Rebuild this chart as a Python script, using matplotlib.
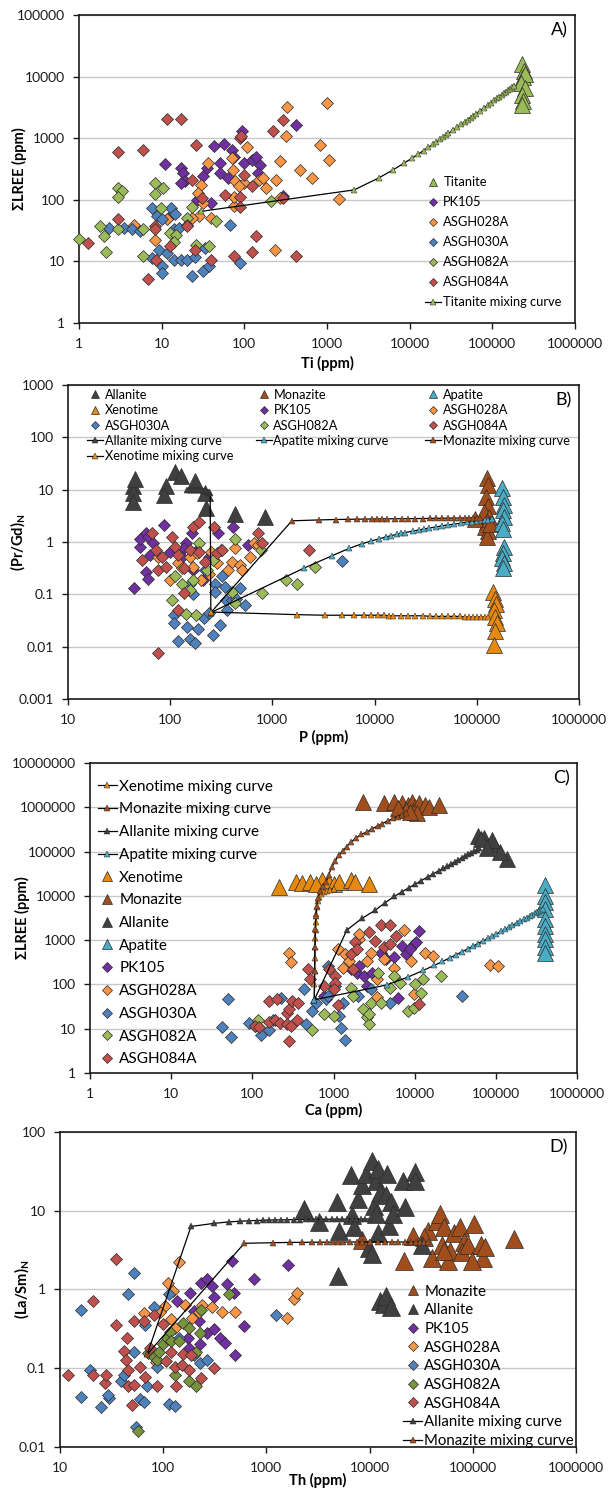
import matplotlib
matplotlib.use('Agg')
import matplotlib.pyplot as plt
from matplotlib.lines import Line2D
from matplotlib.legend import Legend
from matplotlib.ticker import FixedLocator, FuncFormatter, NullLocator

plt.rcParams['font.family'] = ['Lato', 'DejaVu Sans']
plt.rcParams['mathtext.fontset'] = 'custom'
plt.rcParams['mathtext.rm'] = 'Lato'
plt.rcParams['mathtext.bf'] = 'Lato:bold'

# ---------------------------------------------------------------- colours
PURPLE = '#7030A0'
ORANGE = '#F79646'
BLUE = '#4F81BD'
GREEN = '#9BBB59'
GREEN_DK = '#77933C'
RED = '#C0504D'
ALLANITE = '#404040'
MONAZITE = '#A24E1C'
APATITE = '#4BACC6'
XENOTIME = '#E8890F'
EDGE = '#2b2b2b'

# ---------------------------------------------------------------- A) Ti vs sum LREE
a_titanite_ti = [230000, 240000, 235000, 250000, 225000, 245000, 230000, 235000, 228000]
a_titanite_lree = [16000, 12500, 10000, 11000, 8000, 6500, 5000, 4000, 3500]

a_pk105_ti = [11, 17, 18, 19, 17, 32, 35, 43, 56, 51, 51, 64, 70, 76, 94, 100, 124, 138, 155, 145, 420, 290, 12, 39, 27]
a_pk105_lree = [380, 325, 270, 200, 185, 240, 325, 760, 810, 390, 270, 225, 650, 500, 1300, 390, 450, 500, 370, 270, 1650, 115, 50, 89, 100]

a_028_ti = [1000, 330, 316, 815, 1050, 107, 475, 270, 660, 1410, 240, 235, 270, 71, 73, 78, 100, 150, 170, 185,
            36, 30, 27.5, 32, 28, 39, 23, 11.5, 8.2, 4.6, 74, 87, 74]
a_028_lree = [3800, 3200, 1070, 780, 450, 730, 300, 420, 225, 104, 210, 15.5, 107, 475, 310, 200, 185, 210, 225, 155,
              390, 175, 128, 89, 54, 50, 50, 48, 22.5, 39, 78, 165, 112]

a_030_ti = [2.3, 3.5, 4.4, 5.5, 7.6, 8.9, 10, 13, 14.5, 14, 9.4, 11.7, 14, 10, 10, 7.6, 17, 20, 25, 23, 32, 37, 33, 68, 89, 16]
a_030_lree = [35, 35, 33, 31, 75, 54, 48, 73, 60, 33, 15.5, 13.7, 10.6, 8.3, 6.5, 11.3, 10.6, 10.6, 12, 5.9, 6.9, 8.3, 16.5, 39, 9.3, 35]

a_082_ti = [1, 1.8, 2.0, 2.15, 3.0, 3.3, 3.0, 3.0, 6.0, 6.0, 8.3, 8.3, 10.5, 9.8, 12.5, 15, 14, 23, 46, 37, 26, 210, 20.5]
a_082_lree = [23, 37, 25.5, 14, 155, 140, 113, 34, 33, 12.3, 190, 123, 155, 73, 29, 27, 21, 76, 45, 17.5, 18.6, 94, 50]

a_084_ti = [1.3, 3.0, 6.0, 11.7, 17, 26, 23, 30.5, 59, 89, 89, 100, 89, 92, 124, 220, 290, 290, 3.0, 8.3, 8.3, 8.5,
            6.9, 12.5, 20, 20.5, 25, 39, 76, 124, 138, 420]
a_084_lree = [20, 600, 650, 2050, 2050, 780, 210, 107, 120, 113, 76, 255, 1000, 1100, 165, 1320, 2000, 107, 48, 37, 33, 10.6,
              5.2, 17.5, 39, 37, 15.5, 10.6, 12.3, 14, 25.5, 12.3]

a_ttn_mix_ti = [30, 2130, 4230, 6330, 8430, 10530, 12630, 14730, 16830, 18930, 21030, 23130, 25230, 27330, 29430, 33630,
                37830, 42030, 46230, 50430, 54630, 58830, 63030, 71430, 79830, 88230, 96630, 105030, 113430, 121830,
                130230, 138630, 147030, 155430, 163830, 172230, 180630]
a_ttn_mix_lree = [65, 145, 227, 308, 390, 470, 550, 630, 712, 793, 874, 955, 1035, 1116, 1197, 1360, 1520, 1683, 1845, 2006,
                  2170, 2330, 2490, 2815, 3140, 3460, 3785, 4110, 4430, 4755, 5080, 5400, 5725, 6050, 6370, 6695, 7020]

# ---------------------------------------------------------------- B) P vs (Pr/Gd)N
b_allanite_p = [43, 43, 43, 45, 91, 87, 112, 128, 174, 218, 224, 427, 850]
b_allanite_r = [12, 8.5, 5.9, 16, 12, 8, 22, 18, 15, 8.5, 4.4, 3.5, 3.0]
b_monazite_p = [125000, 128000, 122000, 130000, 118000, 132000, 125000, 120000, 130000, 127000, 95000, 135000]
b_monazite_r = [16.6, 12.3, 7.4, 4.8, 3.8, 3.0, 2.4, 1.9, 1.6, 1.26, 2.8, 2.2]
b_apatite_p = [178000, 182000, 186000, 180000, 184000, 178000, 182000, 186000, 180000, 178000, 184000, 182000]
b_apatite_r = [10.6, 7.4, 5.1, 4.1, 3.0, 2.3, 1.8, 0.81, 0.61, 0.49, 0.39, 0.32]
b_xenotime_p = [145000, 150000, 155000, 148000, 152000, 158000, 150000, 148000]
b_xenotime_r = [0.11, 0.083, 0.067, 0.05, 0.037, 0.028, 0.020, 0.011]

b_pk105_p = [44, 51, 51, 58, 61, 68, 63, 58, 61, 87, 100, 142, 163, 174, 295, 416, 578, 135, 129, 167, 240, 210]
b_pk105_r = [0.135, 0.81, 1.17, 1.48, 1.26, 0.94, 0.56, 0.27, 0.20, 2.1, 0.66, 0.94, 1.48, 0.66, 1.48, 1.9, 0.87, 0.76,
             0.53, 0.29, 0.53, 0.19]
b_028_p = [76, 100, 118, 129, 155, 183, 200, 240, 250, 284, 316, 370, 398, 426, 480, 500, 600, 660, 720, 167]
b_028_r = [0.53, 0.19, 0.39, 0.32, 0.53, 0.61, 0.19, 0.25, 0.66, 0.39, 0.70, 0.29, 0.42, 0.78, 0.36, 0.29, 0.53, 0.94, 0.87, 0.34]
b_030_p = [108, 108, 118, 147, 156, 174, 186, 213, 240, 263, 310, 272, 272, 324, 347, 355, 363, 405, 440, 480, 536, 4800,
           220, 167, 155]
b_030_r = [0.041, 0.028, 0.0126, 0.024, 0.014, 0.012, 0.022, 0.035, 0.045, 0.017, 0.026, 0.16, 0.11, 0.22, 0.14, 0.078,
           0.050, 0.078, 0.083, 0.13, 0.063, 0.44, 0.29, 0.10, 0.16]
b_082_p = [103, 112, 129, 142, 155, 167, 179, 191, 229, 265, 398, 426, 426, 775, 795, 1350, 1740, 2620]
b_082_r = [0.078, 0.22, 0.16, 0.043, 0.12, 0.19, 0.041, 0.94, 0.29, 0.46, 0.11, 0.068, 1.17, 0.70, 0.107, 0.19, 0.155, 0.34]
b_084_p = [66, 73, 76, 83, 91, 103, 112, 120, 135, 137, 118, 155, 167, 191, 191, 218, 270, 284, 324, 720, 795, 2300, 76, 53]
b_084_r = [1.48, 0.70, 0.29, 0.53, 0.34, 1.26, 0.81, 0.56, 0.32, 0.105, 0.051, 0.70, 1.95, 2.4, 0.66, 0.42, 1.95, 0.61,
           0.70, 1.48, 0.94, 0.70, 0.0077, 0.46]

b_aln_mix_p = [250, 246, 240, 232, 224, 216, 208, 200, 192, 184, 176, 168, 160, 152, 145]
b_aln_mix_r = [0.045, 8.6, 8.9, 9.1, 9.3, 9.45, 9.6, 9.7, 9.8, 9.85, 9.9, 9.95, 10.0, 10.05, 10.1]
b_mnz_mix_p = [250, 1550, 2850, 4150, 5450, 6750, 8050, 9350, 10650, 11950, 13250, 15850, 18450, 21050, 25000, 30000,
               35000, 40000, 46000, 52000, 60000, 68000, 76000, 84000, 92000, 100000, 108000]
b_mnz_mix_r = [0.045, 2.55, 2.65, 2.7, 2.72, 2.74, 2.75, 2.76, 2.77, 2.78, 2.78, 2.79, 2.8, 2.8, 2.81, 2.82, 2.83, 2.84,
               2.85, 2.86, 2.87, 2.88, 2.89, 2.9, 2.9, 2.91, 2.92]
b_ap_mix_p = [250, 2050, 3850, 5650, 7450, 9250, 11000, 12800, 14600, 16400, 18200, 20000, 23500, 27000, 30500, 34000,
              40000, 46000, 52000, 60000, 70000, 80000, 90000, 100000, 110000, 120000, 130000, 140000]
b_ap_mix_r = [0.045, 0.32, 0.55, 0.76, 0.92, 1.05, 1.15, 1.25, 1.33, 1.4, 1.46, 1.52, 1.62, 1.7, 1.78, 1.85, 1.95, 2.05,
              2.12, 2.2, 2.3, 2.4, 2.47, 2.55, 2.6, 2.65, 2.7, 2.75]
b_xtm_mix_p = [250, 1750, 3300, 4800, 6300, 7800, 9300, 10800, 12300, 13800, 15300, 18000, 21000, 25000, 30000, 35000,
               40000, 46000, 52000, 60000, 68000, 76000, 84000, 92000, 100000, 110000, 120000, 130000]
b_xtm_mix_r = [0.046, 0.041, 0.040, 0.040, 0.040, 0.040, 0.040, 0.040, 0.040, 0.039, 0.039, 0.039, 0.039, 0.039, 0.039,
               0.038, 0.038, 0.038, 0.038, 0.038, 0.038, 0.037, 0.037, 0.037, 0.037, 0.037, 0.037, 0.037]

# ---------------------------------------------------------------- C) Ca vs sum LREE
c_monazite_ca = [2300, 4200, 5600, 6900, 8200, 9200, 10200, 11400, 13400, 15000, 19900, 7800, 9700, 6200, 10800, 8700]
c_monazite_lree = [1.35e6, 1.25e6, 1.35e6, 1.25e6, 1.13e6, 1.35e6, 1.04e6, 1.25e6, 1.13e6, 1.04e6, 1.13e6, 0.87e6,
                   0.8e6, 0.95e6, 0.73e6, 0.8e6]
c_xenotime_ca = [213, 348, 410, 513, 720, 890, 1000, 1170, 1650, 1830, 2700, 600]
c_xenotime_lree = [16000, 21000, 19500, 21000, 23000, 19500, 18500, 21000, 23000, 21000, 18500, 18500]
c_allanite_ca = [60000, 71000, 88000, 94000, 139000, 112000, 89000, 65000, 78000]
c_allanite_lree = [2.3e5, 2.0e5, 1.6e5, 1.4e5, 6.9e4, 9.8e4, 1.8e5, 1.9e5, 1.2e5]
c_apatite_ca = [400000, 405000, 398000, 402000, 400000, 404000, 399000, 401000, 403000, 400000]
c_apatite_lree = [17400, 10200, 7200, 5100, 3000, 2100, 1400, 1070, 700, 520]

c_pk105_ca = [760, 1650, 1950, 2050, 2400, 3000, 3800, 4450, 5600, 6900, 6200, 7800, 9700, 10500, 11400, 8700, 2560]
c_pk105_lree = [55, 220, 185, 265, 155, 185, 520, 375, 410, 740, 50, 490, 810, 890, 1620, 630, 93]
c_028_ca = [280, 296, 1120, 1320, 1390, 1550, 2050, 2050, 2880, 2560, 3400, 3400, 5600, 9100, 9700, 13500, 17000, 7400,
            4200, 85000, 105000]
c_028_lree = [520, 315, 630, 240, 490, 340, 1070, 1380, 520, 340, 131, 52, 240, 340, 60, 520, 445, 1740, 375, 275, 265]
c_030_ca = [42, 50, 54, 92, 109, 129, 162, 224, 178, 436, 540, 460, 600, 800, 850, 1050, 1170, 1250, 1390, 1320, 850,
            2900, 5000, 38000, 2000]
c_030_lree = [11, 48, 6.6, 13.5, 11.5, 7.1, 9.5, 50, 16, 78, 25, 12.6, 39, 46, 55, 93, 19, 10.5, 5.6, 39, 265, 78, 39, 55, 55]
c_082_ca = [117, 540, 760, 1000, 1650, 1740, 2300, 2560, 2700, 2700, 2900, 3550, 3800, 5000, 5600, 6600, 8200, 9700,
            10200, 12000, 12800, 21000]
c_082_lree = [16, 9.5, 21, 19, 85, 55, 27.5, 18, 12.6, 21, 39, 185, 39, 85, 155, 110, 25, 30, 100, 65, 131, 155]
c_084_ca = [162, 200, 162, 190, 220, 265, 280, 265, 296, 280, 310, 370, 350, 109, 121, 485, 510, 760, 890, 1050, 1050,
            1000, 1120, 1650, 1830, 1950, 1740, 2700, 3200, 3800, 5000, 4200, 5900, 11400, 5000]
c_084_lree = [43, 46, 14, 15.5, 13.5, 23, 27.5, 12.6, 11.5, 5.2, 43, 39, 16, 11.8, 11, 220, 131, 93, 220, 155, 110, 78,
              35, 490, 890, 630, 220, 1500, 980, 2150, 2150, 690, 1260, 37, 810]

c_xtm_mix_ca = [580, 583, 586, 589, 592, 596, 600, 606, 614, 625, 640, 665, 705, 760, 830, 910, 1000]
c_xtm_mix_lree = [45, 100, 200, 400, 700, 1100, 1700, 2600, 3800, 5500, 7500, 9500, 11000, 12300, 13200, 13900, 14500]
c_mnz_mix_ca = [580, 585, 590, 597, 605, 620, 645, 685, 735, 800, 870, 950, 1050, 1170, 1300, 1450, 1650, 1900, 2200,
                2600, 3000, 3500, 4000, 4700, 5400, 6200, 7000, 7800]
c_mnz_mix_lree = [45, 200, 700, 1800, 3500, 6000, 9000, 13000, 17000, 20500, 30000, 44000, 62000, 83000, 105000, 130000,
                  166000, 205000, 245000, 280000, 330000, 380000, 430000, 500000, 560000, 620000, 680000, 730000]
c_aln_mix_ca = [580, 1460, 2240, 3240, 4270, 5600, 7000, 8500, 10000, 12000, 14500, 17000, 20000, 22500, 25000, 28000,
                31000, 34000, 38000, 42000, 46000, 50000, 54000, 58000, 62000]
c_aln_mix_lree = [45, 1690, 3100, 4700, 6900, 9720, 12410, 15290, 18170, 22010, 26810, 31610, 37370, 42170, 46970,
                  52730, 58490, 64250, 71930, 79610, 87290, 94970, 102650, 110330, 118010]
c_ap_mix_ca = [580, 4500, 8200, 12800, 17500, 22000, 27000, 32000, 38000, 45000, 52000, 60000, 70000, 80000, 90000,
               100000, 115000, 130000, 145000, 160000, 180000, 200000, 220000, 240000, 260000, 280000, 300000, 320000,
               340000, 360000, 380000]
c_ap_mix_lree = [45, 97, 146, 208, 270, 330, 397, 464, 543, 637, 730, 837, 970, 1103, 1236, 1369, 1569, 1769, 1969,
                 2169, 2435, 2701, 2968, 3234, 3500, 3767, 4033, 4299, 4566, 4832, 5099]

# ---------------------------------------------------------------- D) Th vs (La/Sm)N
d_allanite_th = [2300, 3200, 4800, 5000, 4900, 6600, 6800, 7100, 7800, 8500, 9300, 9800, 10500, 10500, 11000, 11500,
                 11500, 12000, 12000, 12600, 12600, 13700, 14500, 14500, 14900, 15500, 16200, 17000, 21000, 22000,
                 27500, 27500, 32000, 16200]
d_allanite_ls = [10.5, 7.1, 13, 5.5, 1.48, 28, 8.7, 6.2, 14, 21, 29, 3.4, 43, 2.8, 11.5, 24, 9.1, 34, 5.2, 17, 0.71,
                 0.65, 0.82, 16, 29, 6.4, 13, 9.1, 24, 11, 31, 24, 3.7, 0.59]
d_monazite_th = [8500, 21500, 26500, 37000, 40500, 45000, 48000, 50000, 53000, 57000, 60000, 66000, 75000, 82000, 78000,
                 89000, 102000, 120000, 126000, 132000, 251000, 34000, 98000, 53000]
d_monazite_ls = [4.2, 2.3, 4.8, 5.5, 2.5, 7.4, 9.1, 3.7, 6.2, 2.3, 3.1, 5.2, 6.2, 4.0, 2.95, 3.7, 6.8, 3.7, 2.5, 3.5,
                 4.4, 4.6, 2.3, 3.1]

d_pk105_th = [460, 1630, 760, 233, 263, 295, 310, 415, 480, 182, 135, 173, 178, 220, 229, 263, 310, 355, 398, 600, 500, 200]
d_pk105_ls = [2.3, 2.05, 1.35, 1.22, 1.35, 1.1, 0.81, 1.17, 0.91, 0.91, 0.71, 0.24, 0.18, 0.40, 0.20, 0.28, 0.31, 0.24,
              0.21, 0.34, 0.145, 0.54]
d_028_th = [65, 105, 93, 112, 125, 142, 120, 163, 191, 220, 240, 295, 370, 500, 1600, 1860, 2000, 130, 85]
d_028_ls = [0.50, 0.62, 0.52, 1.19, 0.95, 2.2, 0.42, 0.64, 0.44, 0.52, 0.64, 0.59, 0.52, 0.52, 0.43, 0.75, 0.91, 0.32, 0.12]
d_030_th = [16, 16, 19.5, 25, 30, 29, 39, 42, 46, 52, 52, 55, 59, 65, 67, 69, 81, 88, 114, 114, 129, 142, 200, 229, 263, 1230]
d_030_ls = [0.55, 0.043, 0.095, 0.032, 0.042, 0.045, 0.069, 0.082, 0.87, 1.6, 0.16, 0.018, 0.041, 0.037, 0.35, 0.059,
            0.59, 0.105, 0.87, 0.035, 0.033, 0.24, 0.148, 0.117, 0.128, 0.48]
d_082_th = [57, 71, 81, 88, 92, 100, 110, 117, 120, 129, 142, 155, 178, 178, 210, 210, 229, 233, 435]
d_082_ls = [0.016, 0.155, 0.14, 0.128, 0.16, 0.20, 0.24, 0.29, 0.22, 0.082, 0.22, 0.37, 0.32, 0.068, 0.059, 0.16, 0.28,
            0.55, 0.88]
d_084_th = [12, 21, 21, 27, 28, 35, 35, 41.5, 45, 44, 46, 46, 50, 52, 52, 59, 65, 67, 74, 81, 88, 100, 107, 120, 130,
            132, 152, 155, 178, 186, 233, 310]
d_084_ls = [0.083, 0.71, 0.082, 0.064, 0.082, 2.4, 0.35, 0.167, 0.24, 0.128, 0.095, 0.059, 0.034, 0.40, 0.062, 0.104,
            0.40, 0.078, 0.178, 0.48, 0.059, 0.36, 0.123, 0.16, 0.104, 0.060, 0.11, 0.15, 0.095, 0.148, 0.076, 0.102]

d_aln_mix_th = [70, 186, 310, 435, 560, 685, 810, 935, 1060, 1200, 1400, 1600, 1850, 2100, 2400, 2700, 3000, 3400, 3800,
                4300, 4800, 5400, 6000, 6700, 7400, 8200, 9000, 10000]
d_aln_mix_ls = [0.15, 6.3, 6.9, 7.2, 7.35, 7.45, 7.5, 7.55, 7.6, 7.62, 7.65, 7.68, 7.7, 7.72, 7.74, 7.75, 7.76, 7.77,
                7.78, 7.79, 7.8, 7.8, 7.8, 7.81, 7.81, 7.82, 7.82, 7.82]
d_mnz_mix_th = [70, 610, 1150, 1690, 2230, 2770, 3310, 3850, 4390, 4930, 5470, 6500, 7500, 8500, 10000, 12000, 14000,
                16500, 19000, 22000, 25000, 28000, 31000, 34000, 37000]
d_mnz_mix_ls = [0.15, 3.85, 3.92, 3.95, 3.96, 3.97, 3.98, 3.98, 3.99, 3.99, 3.99, 4.0, 4.0, 4.0, 4.0, 4.0, 4.0, 4.0,
                4.0, 4.0, 4.0, 4.0, 4.0, 4.0, 4.0]


# ---------------------------------------------------------------- helpers
def plain(v, pos):
    return f'{v:.0f}' if v >= 1 else f'{v:g}'


def setup(ax, xdec, ydec, xlabel, ylabel, tag, xl_pos, yl_pos):
    ax.set_xscale('log')
    ax.set_yscale('log')
    xt = [10.0 ** k for k in range(xdec[0], xdec[1] + 1)]
    yt = [10.0 ** k for k in range(ydec[0], ydec[1] + 1)]
    ax.set_xlim(xt[0], xt[-1])
    ax.set_ylim(yt[0], yt[-1])
    ax.xaxis.set_major_locator(FixedLocator(xt))
    ax.yaxis.set_major_locator(FixedLocator(yt))
    ax.xaxis.set_minor_locator(NullLocator())
    ax.yaxis.set_minor_locator(NullLocator())
    ax.xaxis.set_major_formatter(FuncFormatter(plain))
    ax.yaxis.set_major_formatter(FuncFormatter(plain))
    ax.grid(axis='y', color='#c8c8c8', lw=1.0)
    ax.set_axisbelow(True)
    for s in ax.spines.values():
        s.set_linewidth(1.2)
        s.set_color('#1a1a1a')
    ax.tick_params(direction='out', length=4, width=1.0, labelsize=10, colors='#1a1a1a')
    ax.tick_params(axis='x', pad=6.5)
    ax.tick_params(axis='y', pad=6)
    ax.set_xlabel(xlabel, fontsize=10.5, fontweight='bold')
    ax.set_ylabel(ylabel, fontsize=10.5, fontweight='bold')
    ax.xaxis.set_label_coords(0.5, xl_pos)
    ax.yaxis.set_label_coords(yl_pos, 0.5)
    ax.text(0.985, 0.95, tag, transform=ax.transAxes, ha='right', va='center', fontsize=13)


def diamonds(ax, x, y, color, ms=5.8):
    ax.plot(x, y, ls='none', marker='D', ms=ms, mfc=color, mec=EDGE, mew=0.5, clip_on=False, zorder=3)


def triangles(ax, x, y, color, ms=12):
    ax.plot(x, y, ls='none', marker='^', ms=ms, mfc=color, mec=EDGE, mew=0.5, clip_on=False, zorder=3)


def mixing(ax, x, y, color):
    ax.plot(x, y, color='black', lw=0.9, marker='^', ms=3.8, mfc=color, mec=EDGE, mew=0.35, zorder=4)


def h_dia(color, ms=4.5):
    return Line2D([], [], ls='none', marker='D', ms=ms, mfc=color, mec=EDGE, mew=0.5)


def h_tri(color, ms=6):
    return Line2D([], [], ls='none', marker='^', ms=ms, mfc=color, mec=EDGE, mew=0.5)


def h_mix(color):
    return Line2D([], [], color='black', lw=0.9, marker='^', ms=3.8, mfc=color, mec=EDGE, mew=0.35)


def legend(ax, handles, labels, x, y, size, spacing):
    lg = Legend(ax, handles, labels, loc='upper left', bbox_to_anchor=(x, y), frameon=False, fontsize=size,
                handlelength=1.25, handletextpad=0.15, labelspacing=spacing, borderpad=0, borderaxespad=0,
                numpoints=1)
    ax.add_artist(lg)
    return lg


fig = plt.figure(figsize=(6.11, 14.88), dpi=100)

# ---------------------------------------------------------------- A
ax = fig.add_axes([0.1293, 0.7829, 0.8118, 0.2070])
triangles(ax, a_titanite_ti, a_titanite_lree, GREEN)
diamonds(ax, a_pk105_ti, a_pk105_lree, PURPLE)
diamonds(ax, a_028_ti, a_028_lree, ORANGE)
diamonds(ax, a_030_ti, a_030_lree, BLUE)
diamonds(ax, a_082_ti, a_082_lree, GREEN)
diamonds(ax, a_084_ti, a_084_lree, RED)
mixing(ax, a_ttn_mix_ti, a_ttn_mix_lree, GREEN)
setup(ax, (0, 6), (0, 5), 'Ti (ppm)', 'ΣLREE (ppm)', 'A)', -0.107, -0.105)
legend(ax, [h_tri(GREEN), h_dia(PURPLE), h_dia(ORANGE), h_dia(BLUE), h_dia(GREEN), h_dia(RED), h_mix(GREEN)],
       ['Titanite', 'PK105', 'ASGH028A', 'ASGH030A', 'ASGH082A', 'ASGH084A', 'Titanite mixing curve'],
       0.698, 0.477, 9.3, 0.62)

# ---------------------------------------------------------------- B
ax = fig.add_axes([0.1113, 0.5302, 0.8363, 0.2110])
triangles(ax, b_allanite_p, b_allanite_r, ALLANITE)
triangles(ax, b_monazite_p, b_monazite_r, MONAZITE)
triangles(ax, b_apatite_p, b_apatite_r, APATITE)
triangles(ax, b_xenotime_p, b_xenotime_r, XENOTIME)
diamonds(ax, b_pk105_p, b_pk105_r, PURPLE)
diamonds(ax, b_028_p, b_028_r, ORANGE)
diamonds(ax, b_030_p, b_030_r, BLUE)
diamonds(ax, b_082_p, b_082_r, GREEN)
diamonds(ax, b_084_p, b_084_r, RED)
mixing(ax, b_aln_mix_p, b_aln_mix_r, ALLANITE)
mixing(ax, b_ap_mix_p, b_ap_mix_r, APATITE)
mixing(ax, b_mnz_mix_p, b_mnz_mix_r, MONAZITE)
mixing(ax, b_xtm_mix_p, b_xtm_mix_r, XENOTIME)
setup(ax, (1, 6), (-3, 3), 'P (ppm)', r'(Pr/Gd)$_\mathbf{N}$', 'B)', -0.099, -0.078)
legend(ax, [h_tri(ALLANITE), h_tri(XENOTIME), h_dia(BLUE), h_mix(ALLANITE), h_mix(XENOTIME)],
       ['Allanite', 'Xenotime', 'ASGH030A', 'Allanite mixing curve', 'Xenotime mixing curve'],
       0.037, 0.988, 9.2, 0.26)
legend(ax, [h_tri(MONAZITE), h_dia(PURPLE), h_dia(GREEN), h_mix(APATITE)],
       ['Monazite', 'PK105', 'ASGH082A', 'Apatite mixing curve'],
       0.367, 0.988, 9.2, 0.26)
legend(ax, [h_tri(APATITE), h_dia(ORANGE), h_dia(RED), h_mix(MONAZITE)],
       ['Apatite', 'ASGH028A', 'ASGH084A', 'Monazite mixing curve'],
       0.699, 0.988, 9.2, 0.26)

# ---------------------------------------------------------------- C
ax = fig.add_axes([0.1473, 0.2789, 0.7971, 0.2083])
triangles(ax, c_xenotime_ca, c_xenotime_lree, XENOTIME)
triangles(ax, c_monazite_ca, c_monazite_lree, MONAZITE)
triangles(ax, c_allanite_ca, c_allanite_lree, ALLANITE)
triangles(ax, c_apatite_ca, c_apatite_lree, APATITE)
diamonds(ax, c_pk105_ca, c_pk105_lree, PURPLE)
diamonds(ax, c_028_ca, c_028_lree, ORANGE)
diamonds(ax, c_030_ca, c_030_lree, BLUE)
diamonds(ax, c_082_ca, c_082_lree, GREEN)
diamonds(ax, c_084_ca, c_084_lree, RED)
mixing(ax, c_xtm_mix_ca, c_xtm_mix_lree, XENOTIME)
mixing(ax, c_mnz_mix_ca, c_mnz_mix_lree, MONAZITE)
mixing(ax, c_aln_mix_ca, c_aln_mix_lree, ALLANITE)
mixing(ax, c_ap_mix_ca, c_ap_mix_lree, APATITE)
setup(ax, (0, 6), (0, 7), 'Ca (ppm)', 'ΣLREE (ppm)', 'C)', -0.097, -0.123)
legend(ax, [h_mix(XENOTIME), h_mix(MONAZITE), h_mix(ALLANITE), h_mix(APATITE),
            h_tri(XENOTIME, 7.5), h_tri(MONAZITE, 7.5), h_tri(ALLANITE, 7.5), h_tri(APATITE, 7.5),
            h_dia(PURPLE, 5.5), h_dia(ORANGE, 5.5), h_dia(BLUE, 5.5), h_dia(GREEN, 5.5), h_dia(RED, 5.5)],
       ['Xenotime mixing curve', 'Monazite mixing curve', 'Allanite mixing curve', 'Apatite mixing curve',
        'Xenotime', 'Monazite', 'Allanite', 'Apatite', 'PK105', 'ASGH028A', 'ASGH030A', 'ASGH082A', 'ASGH084A'],
       0.016, 0.946, 11, 0.57)

# ---------------------------------------------------------------- D
ax = fig.add_axes([0.0982, 0.0276, 0.8445, 0.2117])
triangles(ax, d_monazite_th, d_monazite_ls, MONAZITE, 13)
triangles(ax, d_allanite_th, d_allanite_ls, ALLANITE, 13)
diamonds(ax, d_pk105_th, d_pk105_ls, PURPLE)
diamonds(ax, d_028_th, d_028_ls, ORANGE)
diamonds(ax, d_030_th, d_030_ls, BLUE)
diamonds(ax, d_082_th, d_082_ls, GREEN_DK)
diamonds(ax, d_084_th, d_084_ls, RED)
mixing(ax, d_aln_mix_th, d_aln_mix_ls, ALLANITE)
mixing(ax, d_mnz_mix_th, d_mnz_mix_ls, MONAZITE)
setup(ax, (1, 6), (-2, 2), 'Th (ppm)', r'(La/Sm)$_\mathbf{N}$', 'D)', -0.083, -0.054)
legend(ax, [h_tri(MONAZITE, 7.5), h_tri(ALLANITE, 7.5), h_dia(PURPLE, 5.5), h_dia(ORANGE, 5.5), h_dia(BLUE, 5.5),
            h_dia(GREEN_DK, 5.5), h_dia(RED, 5.5), h_mix(ALLANITE), h_mix(MONAZITE)],
       ['Monazite', 'Allanite', 'PK105', 'ASGH028A', 'ASGH030A', 'ASGH082A', 'ASGH084A',
        'Allanite mixing curve', 'Monazite mixing curve'],
       0.665, 0.515, 10.8, 0.31)

fig.savefig('out.png', dpi=100)
